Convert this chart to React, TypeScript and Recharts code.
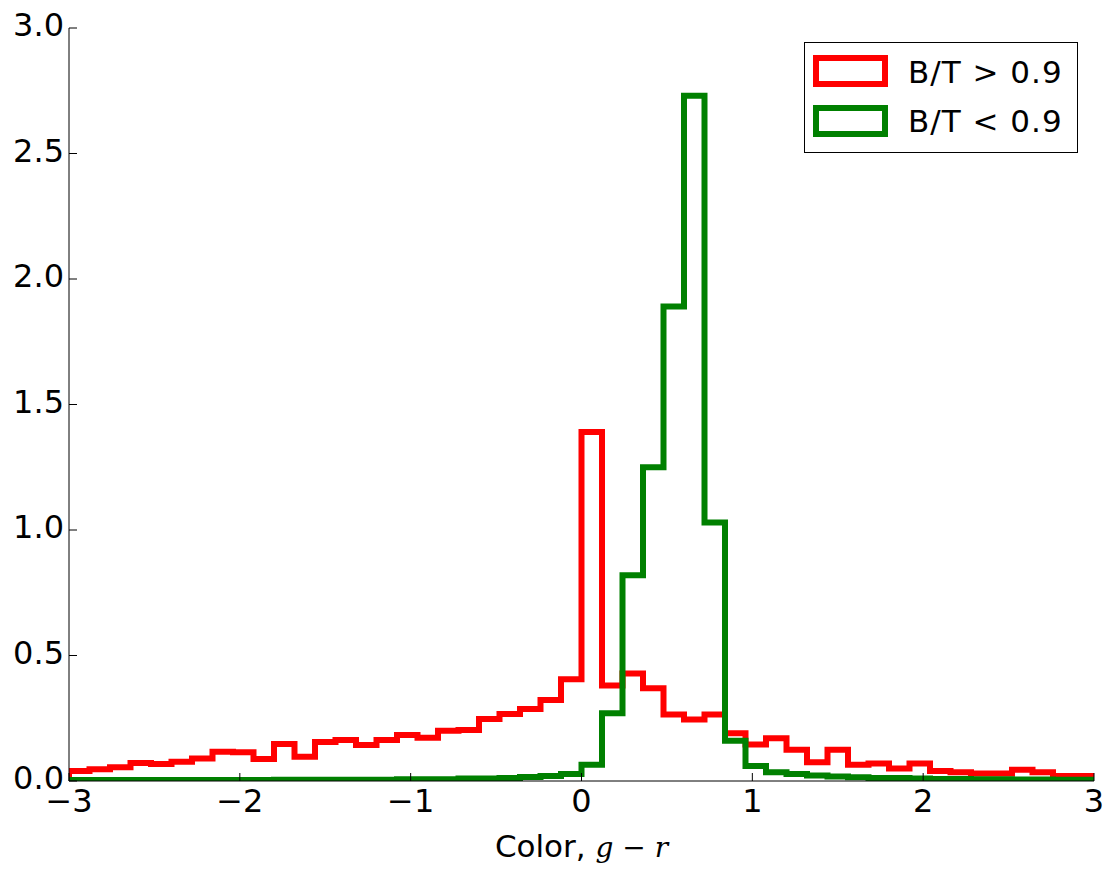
import { ComposedChart, Line, XAxis, YAxis, Legend, Label } from 'recharts';

// histogram bins: 50 bins of width 0.12 between -3 and 3
const BIN_START = -3;
const BIN_WIDTH = 0.12;

const redHeights = [
  0.04, 0.047, 0.055, 0.072, 0.068, 0.077, 0.09, 0.117, 0.115, 0.088,
  0.147, 0.097, 0.155, 0.163, 0.143, 0.163, 0.183, 0.172, 0.2, 0.203,
  0.247, 0.267, 0.287, 0.323, 0.405, 1.39, 0.38, 0.428, 0.37, 0.265,
  0.245, 0.265, 0.19, 0.145, 0.17, 0.125, 0.075, 0.125, 0.065, 0.07,
  0.05, 0.07, 0.04, 0.035, 0.03, 0.03, 0.045, 0.035, 0.02, 0.02,
];

const greenHeights = [
  0.004, 0.004, 0.004, 0.004, 0.004, 0.004, 0.004, 0.004, 0.004, 0.004,
  0.005, 0.005, 0.005, 0.005, 0.005, 0.005, 0.007, 0.007, 0.007, 0.01,
  0.01, 0.012, 0.016, 0.02, 0.028, 0.065, 0.27, 0.82, 1.25, 1.89,
  2.73, 1.03, 0.16, 0.06, 0.035, 0.028, 0.022, 0.018, 0.015, 0.012,
  0.012, 0.01, 0.008, 0.008, 0.007, 0.007, 0.006, 0.006, 0.005, 0.005,
];

const xTicks = [-3, -2, -1, 0, 1, 2, 3];
const yTicks = [0, 0.5, 1, 1.5, 2, 2.5, 3];

const seriesNames = ['B/T > 0.9', 'B/T < 0.9'];
const RED = '#ff0000';
const GREEN = '#008000';
const FONT = '"DejaVu Sans", sans-serif';

// step outline: start at 0, one point per bin edge, drop back to 0 at the end
const edges = redHeights.map((_, i) => BIN_START + i * BIN_WIDTH).concat([3]);
const data = [
  { x: BIN_START, red: 0, green: 0 },
  ...edges.map((x, i) => {
    const k = Math.min(i, redHeights.length - 1);
    return { x, red: redHeights[k], green: greenHeights[k] };
  }),
  { x: 3, red: 0, green: 0 },
];

const fmtX = (v: number) => (v < 0 ? `\u2212${-v}` : `${v}`);

const BottomTick = ({ x, y, payload }: any) => (
  <g>
    <line x1={x} y1={y} x2={x} y2={y - 8} stroke="#000" />
    <text x={x} y={y + 31} textAnchor="middle" fontSize={32} fontFamily={FONT} fill="#000">
      {fmtX(payload.value)}
    </text>
  </g>
);

const LeftTick = ({ x, y, payload }: any) => (
  <g>
    <line x1={x} y1={y} x2={x + 8} y2={y} stroke="#000" />
    <text x={x - 5} y={y + 8} textAnchor="end" fontSize={32} fontFamily={FONT} fill="#000">
      {payload.value.toFixed(1)}
    </text>
  </g>
);

const TopTick = ({ x, y }: any) => <line x1={x} y1={y} x2={x} y2={y + 8} stroke="#000" />;
const RightTick = ({ x, y }: any) => <line x1={x} y1={y} x2={x - 8} y2={y} stroke="#000" />;

const XLabel = () => (
  <text x={581.5} y={857} textAnchor="middle" fontSize={31} fontFamily={FONT} fill="#000">
    Color,{' '}
    <tspan fontFamily='"DejaVu Serif", serif' fontStyle="italic" fontSize={28}>
      g − r
    </tspan>
  </text>
);

const LegendBox = () => {
  const colors = [RED, GREEN];
  return (
    <svg width={274} height={111} style={{ display: 'block' }}>
      <rect x={0.5} y={0.5} width={273} height={110} fill="#fff" stroke="#000" strokeWidth={1} />
      {seriesNames.map((name, i) => (
        <g key={name}>
          <rect x={12} y={16 + i * 50} width={69} height={26} fill="none" stroke={colors[i]} strokeWidth={6} />
          <text x={104} y={41 + i * 49} fontSize={31} letterSpacing={1} fontFamily={FONT} fill="#000">
            {name}
          </text>
        </g>
      ))}
    </svg>
  );
};

export default function App() {
  return (
    <div style={{ position: 'absolute', left: 0, top: 0, background: '#fff' }}>
      <ComposedChart width={1110} height={871} data={data} margin={{ top: 28, right: 16, bottom: 0, left: 0 }}>
        <XAxis
          dataKey="x"
          type="number"
          domain={[-3, 3]}
          ticks={xTicks}
          interval={0}
          height={90}
          tickSize={0}
          tickMargin={0}
          tickLine={false}
          tick={<BottomTick />}
          axisLine={{ stroke: '#000' }}
          allowDataOverflow
        >
          <Label content={<XLabel />} />
        </XAxis>
        <XAxis
          xAxisId="top"
          orientation="top"
          type="number"
          domain={[-3, 3]}
          ticks={xTicks}
          interval={0}
          height={0}
          tickSize={0}
          tickMargin={0}
          tickLine={false}
          tick={<TopTick />}
          axisLine={{ stroke: '#000' }}
          allowDataOverflow
        />
        <YAxis
          type="number"
          domain={[0, 3]}
          ticks={yTicks}
          interval={0}
          width={69}
          tickSize={0}
          tickMargin={0}
          tickLine={false}
          tick={<LeftTick />}
          axisLine={{ stroke: '#000' }}
          allowDataOverflow
        />
        <YAxis
          yAxisId="right"
          orientation="right"
          type="number"
          domain={[0, 3]}
          ticks={yTicks}
          interval={0}
          width={0}
          tickSize={0}
          tickMargin={0}
          tickLine={false}
          tick={<RightTick />}
          axisLine={{ stroke: '#000' }}
          allowDataOverflow
        />
        <Legend
          content={<LegendBox />}
          verticalAlign="middle"
          wrapperStyle={{ top: 42, left: 804, width: 274, height: 111 }}
        />
        <Line
          dataKey="red"
          name={seriesNames[0]}
          type="stepAfter"
          stroke={RED}
          strokeWidth={6}
          strokeLinejoin="miter"
          dot={false}
          activeDot={false}
          isAnimationActive={false}
        />
        <Line
          dataKey="green"
          name={seriesNames[1]}
          type="stepAfter"
          stroke={GREEN}
          strokeWidth={6}
          strokeLinejoin="miter"
          dot={false}
          activeDot={false}
          isAnimationActive={false}
        />
      </ComposedChart>
    </div>
  );
}
